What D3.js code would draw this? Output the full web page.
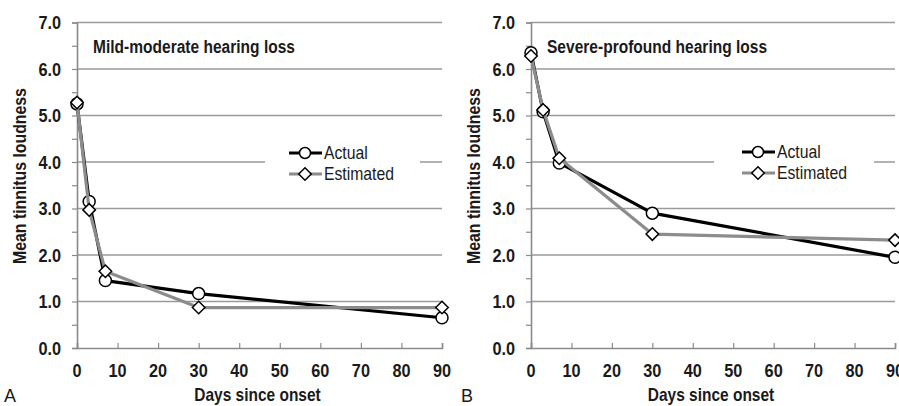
<!DOCTYPE html>
<html>
<head>
<meta charset="utf-8">
<script src="https://cdn.jsdelivr.net/npm/d3@7"></script>
<style>
  body { margin: 0; background: #fff; }
  svg { display: block; }
  text { font-family: "Liberation Sans", Arial, sans-serif; }
</style>
</head>
<body>
<div id="chart"></div>
<script>
// valores
var days = [0, 3, 7, 30, 90];
var mildActual = [5.25, 3.15, 1.45, 1.17, 0.65];
var mildEstimated = [5.28, 2.97, 1.65, 0.87, 0.87];
var severeActual = [6.35, 5.08, 3.98, 2.90, 1.95];
var severeEstimated = [6.28, 5.12, 4.08, 2.45, 2.32];
var xTicks = [0, 10, 20, 30, 40, 50, 60, 70, 80, 90];
var yTicks = [0, 1, 2, 3, 4, 5, 6, 7];
var seriesNames = ["Actual", "Estimated"];
var panelTitles = ["Mild-moderate hearing loss", "Severe-profound hearing loss"];
var panelLetters = ["A", "B"];

var W = 899, H = 406;
var svg = d3.select("#chart").append("svg")
    .attr("width", W)
    .attr("height", H);

var panels = [
  {left: 77, right: 442, title: panelTitles[0], letter: panelLetters[0], actual: mildActual, estimated: mildEstimated,
   legend: {x: 289, y: 153, boxX: 265, boxW: 155}, ylabX: 20, letterX: 4},
  {left: 531, right: 895, title: panelTitles[1], letter: panelLetters[1], actual: severeActual, estimated: severeEstimated,
   legend: {x: 742, y: 152, boxX: 714, boxW: 160}, ylabX: 474, letterX: 461}
];

var plotTop = 22.5, plotBottom = 348;

// texto estrecho (la fuente original es tipo Arial Narrow)
function label(g, x, y, txt, sx, size, weight, anchor, rot) {
  return g.append("text")
      .attr("transform", "translate(" + x + "," + y + ")" + (rot ? " rotate(-90)" : "") + " scale(" + sx + ",1)")
      .attr("text-anchor", anchor || "start")
      .style("font-size", size + "px")
      .style("font-weight", weight || "normal")
      .style("fill", "#1a1a1a")
      .text(txt);
}

panels.forEach(function(p) {
  var x = d3.scaleLinear().domain([0, 90]).range([p.left, p.right]);
  var y = d3.scaleLinear().domain([0, 7]).range([plotBottom, plotTop]);
  var g = svg.append("g");

  // lineas de la cuadricula
  g.selectAll(".grid").data(yTicks.filter(function(d) { return d > 0; }))
    .enter().append("line")
      .attr("x1", p.left).attr("x2", p.right)
      .attr("y1", function(d) { return y(d); }).attr("y2", function(d) { return y(d); })
      .style("stroke", "#9a9a9a").style("stroke-width", 1.6);

  // eje y con marcas cada 0.5
  var yAxis = d3.axisLeft(y).tickValues(d3.range(0, 7.01, 0.5)).tickSize(5).tickFormat("");
  g.append("g").attr("transform", "translate(" + p.left + ",0)").call(yAxis)
    .call(function(a) {
      a.select(".domain").attr("stroke", "#8a8a8a").attr("stroke-width", 1.6);
      a.selectAll(".tick line").attr("stroke", "#8a8a8a").attr("stroke-width", 1.2);
    });
  yTicks.forEach(function(d) {
    label(g, p.left - 16, y(d) + 6.5, d3.format(".1f")(d), 0.88, 18.5, "bold", "end");
  });

  // eje x
  var xAxis = d3.axisBottom(x).tickValues(xTicks).tickSize(-5).tickFormat("");
  g.append("g").attr("transform", "translate(0," + plotBottom + ")").call(xAxis)
    .call(function(a) {
      a.select(".domain").attr("stroke", "#8a8a8a").attr("stroke-width", 1.6);
      a.selectAll(".tick line").attr("stroke", "#8a8a8a").attr("stroke-width", 1.2);
    });
  xTicks.forEach(function(d) {
    label(g, x(d), 377, d, 0.88, 18.5, "bold", "middle");
  });

  label(g, (p.left + p.right) / 2 - 2, 401, "Days since onset", 0.86, 18, "bold", "middle");
  label(g, p.ylabX + 6, 176, "Mean tinnitus loudness", 0.88, 18, "bold", "middle", true);
  label(g, p.letterX, 402, p.letter, 1, 18, "normal", "start");
  label(g, p.left + 16, 53, p.title, 0.84, 18.5, "bold", "start");

  // leyenda con fondo blanco
  g.append("rect")
      .attr("x", p.legend.boxX).attr("y", 140)
      .attr("width", p.legend.boxW).attr("height", 46)
      .style("fill", "#fff");

  var line = d3.line()
      .x(function(d, i) { return x(days[i]); })
      .y(function(d) { return y(d); });

  var diamond = d3.symbol().type(d3.symbolDiamond2).size(100);

  [p.actual, p.estimated].forEach(function(vals, k) {
    var col = k === 0 ? "#000" : "#8c8c8c";
    g.append("path").datum(vals)
        .attr("d", line)
        .style("fill", "none").style("stroke", col).style("stroke-width", 3.2)
        .style("stroke-linejoin", "round");
    var pts = g.selectAll(".pt" + k).data(vals).enter();
    if (k === 0) {
      pts.append("circle")
          .attr("cx", function(d, i) { return x(days[i]); })
          .attr("cy", function(d) { return y(d); })
          .attr("r", 6)
          .style("fill", "#fff").style("stroke", "#000").style("stroke-width", 1.5);
    } else {
      pts.append("path")
          .attr("d", diamond)
          .attr("transform", function(d, i) { return "translate(" + x(days[i]) + "," + y(d) + ")"; })
          .style("fill", "#fff").style("stroke", "#000").style("stroke-width", 1.5);
    }

    // entrada de la leyenda
    var ly = p.legend.y + k * 21;
    g.append("line")
        .attr("x1", p.legend.x).attr("x2", p.legend.x + 33)
        .attr("y1", ly).attr("y2", ly)
        .style("stroke", col).style("stroke-width", 3.2);
    if (k === 0) {
      g.append("circle").attr("cx", p.legend.x + 16).attr("cy", ly).attr("r", 5.5)
          .style("fill", "#fff").style("stroke", "#000").style("stroke-width", 1.5);
    } else {
      g.append("path").attr("d", diamond)
          .attr("transform", "translate(" + (p.legend.x + 16) + "," + ly + ")")
          .style("fill", "#fff").style("stroke", "#000").style("stroke-width", 1.5);
    }
    label(g, p.legend.x + 35, ly + 6, seriesNames[k], 0.9, 17.5, "normal", "start");
  });
});
</script>
</body>
</html>
